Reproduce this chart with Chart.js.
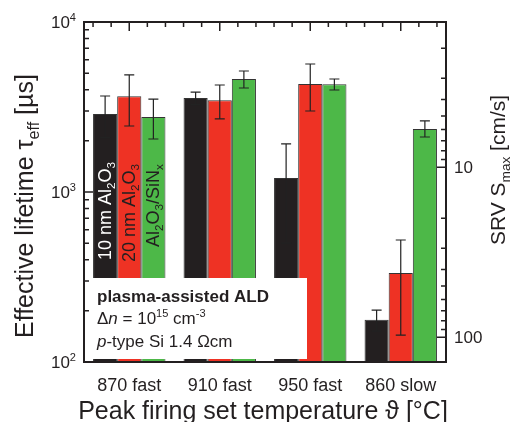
<!DOCTYPE html>
<html>
<head>
<meta charset="utf-8">
<script src="https://cdn.jsdelivr.net/npm/chart.js@4.4.1/dist/chart.umd.min.js"></script>
<style>
  body { margin: 0; background: #fff; }
  #wrap { width: 512px; height: 422px; }
</style>
</head>
<body>
<div id="wrap"><canvas id="myChart"></canvas></div>
<script>
let categories = ['870 fast', '910 fast', '950 fast', '860 slow'];
let seriesNames = ['10 nm Al2O3', '20 nm Al2O3', 'Al2O3/SiNx'];
let colorHex = ['#231F20', '#EE3224', '#4DB848'];

// effective lifetime in µs
let tau10nm = [2880, 3570, 1210, 177];
let tau20nm = [3660, 3470, 4320, 334];
let tauStack = [2760, 4620, 4300, 2350];

// error bar limits
let low10nm = [2090, 3270, 500, 152];
let high10nm = [3670, 3870, 1920, 202];
let low20nm = [2445, 2690, 2995, 144];
let high20nm = [4880, 4260, 5660, 522];
let lowStack = [2050, 4090, 3980, 2107];
let highStack = [3520, 5150, 4620, 2617];

let lifetimeTicks = [100, 1000, 10000];
let srvTicks = [10, 100];
let srvRange = [1.4, 140];

let lows = [low10nm, low20nm, lowStack];
let highs = [high10nm, high20nm, highStack];

const FONT = '"Liberation Sans", Arial, sans-serif';
const INK = '#231F20';

function fontOf(p, size) {
    let s = (p.sub || p.sup) ? size * 0.65 : size;
    return (p.italic ? 'italic ' : '') + (p.bold ? 'bold ' : '') + s + 'px ' + FONT;
}

function drawRich(c, parts, x, y, size, align) {
    let total = 0;
    parts.forEach(p => {
        c.font = fontOf(p, size);
        p.w = c.measureText(p.t).width;
        total += p.w;
    });
    let cx = align === 'center' ? x - total / 2 : align === 'right' ? x - total : x;
    c.textAlign = 'left';
    c.textBaseline = 'alphabetic';
    parts.forEach(p => {
        c.font = fontOf(p, size);
        let dy = p.sub ? size * 0.22 : p.sup ? -size * 0.42 : 0;
        c.fillText(p.t, cx, y + dy);
        cx += p.w;
    });
}

let decorations = {
    id: 'decorations',
    afterDatasetsDraw(chart) {
        const c = chart.ctx;
        const a = chart.chartArea;
        const ys = chart.scales.y;
        const y2 = chart.scales.y2;
        const xs = chart.scales.x;
        c.save();

        // error bars
        c.strokeStyle = '#222';
        c.lineWidth = 1.2;
        for (let d = 0; d < 3; d++) {
            chart.getDatasetMeta(d).data.forEach((bar, i) => {
                let top = ys.getPixelForValue(highs[d][i]);
                let bot = ys.getPixelForValue(lows[d][i]);
                c.beginPath();
                c.moveTo(bar.x, top); c.lineTo(bar.x, bot);
                c.moveTo(bar.x - 5, top); c.lineTo(bar.x + 5, top);
                c.moveTo(bar.x - 5, bot); c.lineTo(bar.x + 5, bot);
                c.stroke();
            });
        }

        // white annotation box
        c.fillStyle = '#fff';
        c.fillRect(a.left + 1, 278, 222, 81);
        c.fillStyle = INK;
        drawRich(c, [{ t: 'plasma-assisted ALD', bold: true }], 97, 302, 17, 'left');
        drawRich(c, [{ t: 'Δ' }, { t: 'n', italic: true }, { t: ' = 10' }, { t: '15', sup: true }, { t: ' cm' }, { t: '-3', sup: true }], 97, 324, 17, 'left');
        drawRich(c, [{ t: 'p', italic: true }, { t: '-type Si 1.4 Ωcm' }], 97, 347, 17, 'left');

        // labels inside the first group of bars
        let inBar = [
            { parts: [{ t: '10 nm Al' }, { t: '2', sub: true }, { t: 'O' }, { t: '3', sub: true }], col: '#fff', y0: 260 },
            { parts: [{ t: '20 nm Al' }, { t: '2', sub: true }, { t: 'O' }, { t: '3', sub: true }], col: INK, y0: 262 },
            { parts: [{ t: 'Al' }, { t: '2', sub: true }, { t: 'O' }, { t: '3', sub: true }, { t: '/SiN' }, { t: 'x', sub: true }], col: INK, y0: 247 }
        ];
        inBar.forEach((lab, d) => {
            let bar = chart.getDatasetMeta(d).data[0];
            c.save();
            c.translate(bar.x + 6, lab.y0);
            c.rotate(-Math.PI / 2);
            c.fillStyle = lab.col;
            drawRich(c, lab.parts, 0, 0, 18, 'left');
            c.restore();
        });

        // frame
        c.strokeStyle = INK;
        c.lineWidth = 2;
        c.strokeRect(a.left, a.top, a.right - a.left, a.bottom - a.top);

        // inward ticks, left axis
        c.lineWidth = 1.5;
        c.beginPath();
        for (let e = 100; e < 10000; e *= 10) {
            for (let m = 1; m <= 10; m++) {
                let py = ys.getPixelForValue(e * m);
                let len = (m === 1 || m === 10) ? 9 : 5;
                c.moveTo(a.left, py); c.lineTo(a.left + len, py);
            }
        }
        // right axis
        for (let e = 1; e <= 100; e *= 10) {
            for (let m = 1; m <= 10; m++) {
                let v = e * m;
                if (v < srvRange[0] || v > srvRange[1]) continue;
                let py = y2.getPixelForValue(v);
                let len = srvTicks.includes(v) ? 9 : 5;
                c.moveTo(a.right, py); c.lineTo(a.right - len, py);
            }
        }
        // top axis
        let catW = (a.right - a.left) / categories.length;
        categories.forEach((cat, i) => {
            let cx = xs.getPixelForValue(i);
            for (let k = -2; k <= 2; k++) {
                let len = k === 0 ? 9 : 5;
                c.moveTo(cx + k * catW / 5, a.top); c.lineTo(cx + k * catW / 5, a.top + len);
            }
        });
        c.stroke();

        // tick labels, left
        c.fillStyle = INK;
        lifetimeTicks.forEach(v => {
            let py = ys.getPixelForValue(v);
            drawRich(c, [{ t: '10' }, { t: String(Math.round(Math.log10(v))), sup: true }], 76, py + 6, 17, 'right');
        });
        // tick labels, right
        srvTicks.forEach(v => {
            let py = y2.getPixelForValue(v);
            drawRich(c, [{ t: String(v) }], 454, py + 6, 17, 'left');
        });

        // axis titles
        c.save();
        c.translate(33, 338);
        c.rotate(-Math.PI / 2);
        drawRich(c, [{ t: 'Effective lifetime τ' }, { t: 'eff', sub: true }, { t: ' [µs]' }], 0, 0, 25, 'left');
        c.restore();

        c.save();
        c.translate(505, 170);
        c.rotate(-Math.PI / 2);
        drawRich(c, [{ t: 'SRV S' }, { t: 'max', sub: true }, { t: ' [cm/s]' }], 0, 0, 21, 'center');
        c.restore();

        drawRich(c, [{ t: 'Peak firing set temperature ϑ [°C]' }], 263, 419, 25, 'center');

        c.restore();
    }
};

let ctx = document.getElementById('myChart');

let myChart = new Chart(ctx, {
    type: 'bar',
    data: {
        labels: categories,
        datasets: [
            { label: seriesNames[0], data: tau10nm, backgroundColor: colorHex[0] },
            { label: seriesNames[1], data: tau20nm, backgroundColor: colorHex[1] },
            { label: seriesNames[2], data: tauStack, backgroundColor: colorHex[2] }
        ].map(ds => Object.assign(ds, {
            yAxisID: 'y',
            borderColor: '#333',
            borderWidth: 1,
            categoryPercentage: 0.8,
            barPercentage: 1.0
        }))
    },
    options: {
        responsive: true,
        maintainAspectRatio: false,
        animation: false,
        layout: { padding: { top: 22 } },
        plugins: {
            legend: { display: false },
            tooltip: { enabled: false }
        },
        scales: {
            x: {
                grid: { display: false },
                border: { display: false },
                ticks: {
                    color: INK,
                    padding: 5,
                    font: { family: FONT, size: 18 }
                },
                afterFit: (s) => { s.height = 60; }
            },
            y: {
                type: 'logarithmic',
                position: 'left',
                min: 100,
                max: 10000,
                grid: { display: false },
                border: { display: false },
                ticks: { display: false },
                afterFit: (s) => { s.width = 84; }
            },
            y2: {
                type: 'logarithmic',
                position: 'right',
                reverse: true,
                min: srvRange[0],
                max: srvRange[1],
                grid: { display: false },
                border: { display: false },
                ticks: { display: false },
                afterFit: (s) => { s.width = 66; }
            }
        }
    },
    plugins: [decorations]
});
</script>
</body>
</html>
